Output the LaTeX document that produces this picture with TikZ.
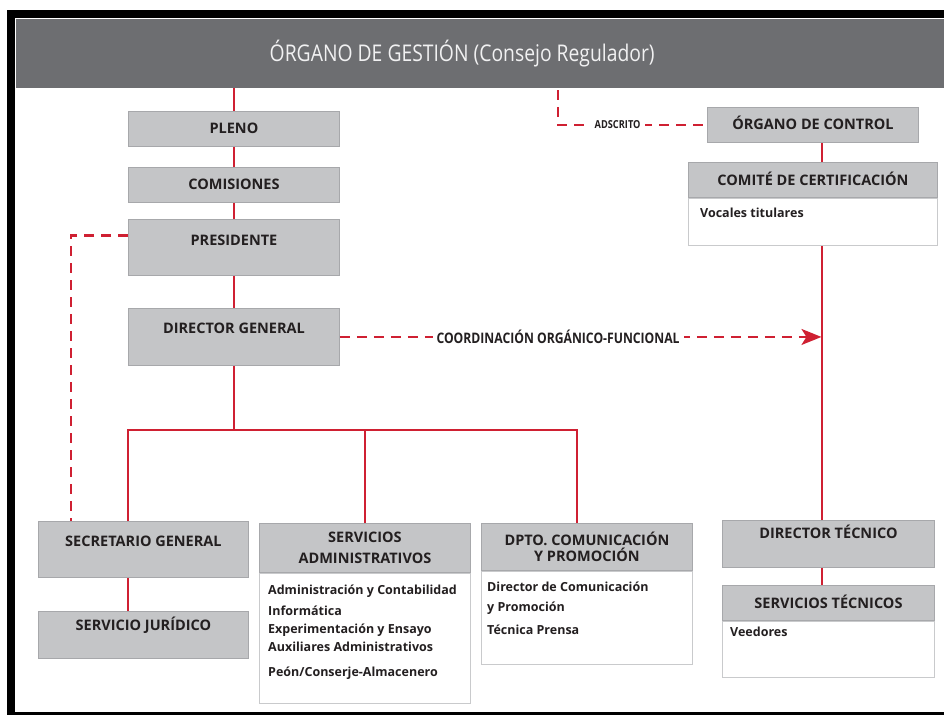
\documentclass[tikz,border=0pt]{standalone}
\usepackage{fontspec}
\setmainfont{Open Sans}
\newfontfamily\condensedfont[FakeStretch=0.84]{Open Sans}
\usetikzlibrary{arrows.meta,positioning}
\definecolor{headgray}{HTML}{6D6E71}
\definecolor{headtext}{HTML}{F1F1F2}
\definecolor{boxgray}{HTML}{C4C5C7}
\definecolor{edgegray}{HTML}{A7A8AB}
\definecolor{bodyedge}{HTML}{C9CACC}
\definecolor{linered}{HTML}{CF2032}
\definecolor{textdark}{HTML}{231F20}

\tikzset{
  graybox/.style={draw=edgegray, fill=boxgray, line width=0.9pt, inner sep=0pt,
    anchor=north west, text=textdark, font=\bfseries\fontsize{14.5}{17}\selectfont},
  bodybox/.style={draw=bodyedge, fill=white, line width=1.2pt, inner sep=0pt},
  itemtext/.style={inner sep=0pt, anchor=base west, text=textdark,
    font=\bfseries\fontsize{12.5}{15}\selectfont},
  orgline/.style={draw=linered, line width=2pt},
  linkline/.style={draw=linered, line width=2.2pt, dash pattern=on 10pt off 7pt},
  linklabel/.style={fill=white, inner xsep=4pt, inner ysep=1pt, text=textdark,
    font=\condensedfont\bfseries\fontsize{14.5}{17}\selectfont},
}

\begin{document}
\begin{tikzpicture}[x=1pt,y=-1pt]
	\useasboundingbox (0,0) rectangle (944,715);
	% frame and header
	\fill[black] (7,10) rectangle (944,715);
	\fill[white] (15,18) rectangle (944,712);
	\node (header) [fill=headgray, minimum width=928pt, minimum height=69pt, inner sep=0pt,
		anchor=north west, text=headtext, font=\condensedfont\fontsize{23}{26}\selectfont]
		at (16,19) {\hspace*{-36pt}ÓRGANO DE GESTIÓN (Consejo Regulador)};
	% left column
	\node (pleno) [graybox, minimum width=211pt, text height=22pt, text depth=13pt] at (128,111) {PLENO};
	\node (comisiones) [graybox, minimum width=211pt, text height=22pt, text depth=13pt] at (128,167) {COMISIONES};
	\node (presidente) [graybox, minimum width=211pt, text height=26pt, text depth=30pt] at (128,219) {PRESIDENTE};
	\node (dirgen) [graybox, minimum width=211pt, text height=25pt, text depth=32pt] at (128,308) {DIRECTOR GENERAL};
	% bottom row
	\node (secretario) [graybox, minimum width=210pt, text height=25pt, text depth=31pt] at (38,521) {SECRETARIO GENERAL};
	\node (juridico) [graybox, minimum width=210pt, text height=19pt, text depth=28pt] at (38,611) {SERVICIO JURÍDICO};
	\node (admin) [graybox, minimum width=211pt, minimum height=49pt, align=center,
		font=\bfseries\fontsize{14.5}{21}\selectfont] at (259,523) {SERVICIOS\\ADMINISTRATIVOS};
	\node (adminbody) [bodybox, below=0pt of admin, minimum width=211pt, minimum height=130pt] {};
	\node (dpto) [graybox, minimum width=211pt, minimum height=47pt, align=center,
		font=\bfseries\fontsize{14.5}{16}\selectfont] at (481,523) {DPTO. COMUNICACIÓN\\Y PROMOCIÓN};
	\node (dptobody) [bodybox, below=0pt of dpto, minimum width=211pt, minimum height=93pt] {};
	% right column
	\node (control) [graybox, minimum width=211pt, text height=22pt, text depth=13pt] at (707,107) {ÓRGANO DE CONTROL};
	\node (comite) [graybox, minimum width=249pt, text height=23pt, text depth=12pt] at (688,162) {COMITÉ DE CERTIFICACIÓN};
	\node (comitebody) [bodybox, below=0pt of comite, minimum width=249pt, minimum height=47pt] {};
	\node (dirtec) [graybox, minimum width=212pt, text height=18pt, text depth=29pt] at (722,520) {DIRECTOR TÉCNICO};
	\node (tecnicos) [graybox, minimum width=212pt, text height=23pt, text depth=12pt] at (722,585) {SERVICIOS TÉCNICOS};
	\node (tecnicosbody) [bodybox, below=0pt of tecnicos, minimum width=212pt, minimum height=56pt] {};
	% contents of the white boxes
	\foreach \y/\t [count=\i] in {594/Administración y Contabilidad, 615/Informática,
		633/Experimentación y Ensayo, 651/Auxiliares Administrativos, 676/{Peón/Conserje-Almacenero}}
		\node (adm\i) [itemtext] at (268,\y) {\t};
	\foreach \y/\t [count=\i] in {591/Director de Comunicación, 611/y Promoción, 634/Técnica Prensa}
		\node (com\i) [itemtext] at (487,\y) {\t};
	\node (vocales) [itemtext] at (700,217) {Vocales titulares};
	\node (veedores) [itemtext] at (730,636) {Veedores};
	% solid lines
	\coordinate (busline) at (0,430);
	\coordinate (spine) at ([xshift=9.5pt]control.south);
	\draw[orgline] (header.south -| pleno.north) -- (pleno.north);
	\draw[orgline] (pleno) -- (comisiones);
	\draw[orgline] (comisiones) -- (presidente);
	\draw[orgline] (presidente) -- (dirgen);
	\draw[orgline] (dirgen.south) -- (dirgen.south |- busline);
	\draw[orgline] ([xshift=-15pt]secretario.north) |- ([xshift=-9.5pt]dpto.north |- busline) -- ([xshift=-9.5pt]dpto.north);
	\draw[orgline] (admin.north) -- (admin.north |- busline);
	\draw[orgline] ([xshift=-15pt]secretario.south) -- ([xshift=-15pt]juridico.north);
	\draw[orgline] (spine) -- (spine |- comite.north);
	\draw[orgline] (spine |- comitebody.south) -- (spine |- dirtec.north);
	\draw[orgline] (spine |- dirtec.south) -- (spine |- tecnicos.north);
	% dashed links
	\draw[linkline] ([yshift=12pt]presidente.west) -| ([xshift=33pt]secretario.north west);
	\coordinate (adscripcion) at (558,90);
	\draw[linkline] (adscripcion) |- node[pos=0.7, linklabel, font=\condensedfont\bfseries\fontsize{11}{13}\selectfont] {ADSCRITO} (control.west);
	\draw[linkline, -{Stealth[length=20pt, width=16pt, inset=5pt]}] (dirgen.east)
		-- node[pos=0.453, linklabel] {COORDINACIÓN ORGÁNICO-FUNCIONAL} ([xshift=-1pt]dirgen.east -| spine);
\end{tikzpicture}
\end{document}
